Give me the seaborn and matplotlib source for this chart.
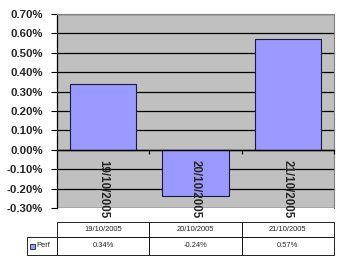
import matplotlib
matplotlib.use("Agg")
import matplotlib.pyplot as plt
import seaborn as sns
import pandas as pd
from matplotlib.ticker import FuncFormatter, MultipleLocator, FixedLocator
from matplotlib.patches import Rectangle

dates = ["19/10/2005", "20/10/2005", "21/10/2005"]
perf = [0.34, -0.24, 0.57]
table_values = ["0.34%", "-0.24%", "0.57%"]
series_name = "Perf"

sns.set_style("white")
plt.rcParams['font.family'] = ['Liberation Sans', 'DejaVu Sans']

fig = plt.figure(figsize=(3.52, 2.64), dpi=100)
W, H = 352, 264
L, R, T, B = 57, 334, 14, 208
ax = fig.add_axes([L / W, 1 - B / H, (R - L) / W, (B - T) / H])
ax.set_facecolor("#C0C0C0")

BAR = "#9999FF"
EDGE = "#1a1a40"
df = pd.DataFrame({"date": dates, "perf": perf})
sns.barplot(data=df, x="date", y="perf", color=BAR, saturation=1,
            edgecolor=EDGE, linewidth=0.8, width=0.72, ax=ax, zorder=3)

ax.set_ylim(-0.3, 0.7)
ax.set_xlim(-0.5, 2.5)
ax.yaxis.set_major_locator(MultipleLocator(0.1))
ax.yaxis.set_major_formatter(FuncFormatter(lambda v, p: f"{v:.2f}%"))
ax.grid(axis="y", color="black", linewidth=0.9, zorder=1)
ax.set_axisbelow(True)
ax.set_xlabel("")
ax.set_ylabel("")

ax.tick_params(axis="y", direction="out", length=4, width=0.8, color="black",
               pad=6, left=True, labelsize=8.2)
for lbl in ax.get_yticklabels():
    lbl.set_fontweight("bold")

# category axis at zero
ax.spines["bottom"].set_position(("data", 0))
ax.spines["bottom"].set_color("black")
ax.spines["bottom"].set_linewidth(1.0)
ax.spines["bottom"].set_zorder(4)
ax.spines["left"].set_color("black")
ax.spines["left"].set_linewidth(0.9)
ax.spines["top"].set_color("#808080")
ax.spines["right"].set_color("#808080")
ax.xaxis.set_minor_locator(FixedLocator([0.5, 1.5, 2.5]))
ax.tick_params(axis="x", which="minor", direction="out", length=3, width=0.8,
               color="black", bottom=True)
ax.tick_params(axis="x", which="major", length=0, pad=7, bottom=True)
ax.set_xticks(range(len(dates)))
ax.set_xticklabels(dates, rotation=270, fontsize=8.3, fontweight="bold",
                   va="top", ha="center")
ax.xaxis.set_zorder(5)

# data table (drawn in figure pixel coordinates)
def fx(x):
    return x / W

def fy(y):
    return 1 - y / H

row_top, row_mid, row_bot = 222.5, 236.5, 255
col_edges = [L + i * (R - L) / len(dates) for i in range(len(dates) + 1)]
leg_left = 27

def cell(x0, x1, y0, y1):
    fig.patches.append(Rectangle((fx(x0), fy(y1)), fx(x1) - fx(x0),
                                 fy(y0) - fy(y1), transform=fig.transFigure,
                                 facecolor="white", edgecolor="black",
                                 linewidth=0.6))

for i in range(len(dates)):
    x0, x1 = col_edges[i], col_edges[i + 1]
    cell(x0, x1, row_top, row_mid)
    cell(x0, x1, row_mid, row_bot)
    fig.text(fx((x0 + x1) / 2), fy((row_top + row_mid) / 2), dates[i],
             ha="center", va="center", fontsize=5.4, color="#222222")
    fig.text(fx((x0 + x1) / 2), fy((row_mid + row_bot) / 2), table_values[i],
             ha="center", va="center", fontsize=5.4, color="#222222")
cell(leg_left, L, row_mid, row_bot)
fig.patches.append(Rectangle((fx(29.5), fy(248.5)), 5 / W, 5 / H,
                             transform=fig.transFigure, facecolor=BAR,
                             edgecolor=EDGE, linewidth=0.6))
fig.text(fx(36), fy((row_mid + row_bot) / 2), series_name, ha="left",
         va="center", fontsize=5.4, color="#222222")

fig.savefig("out.png", dpi=100)
